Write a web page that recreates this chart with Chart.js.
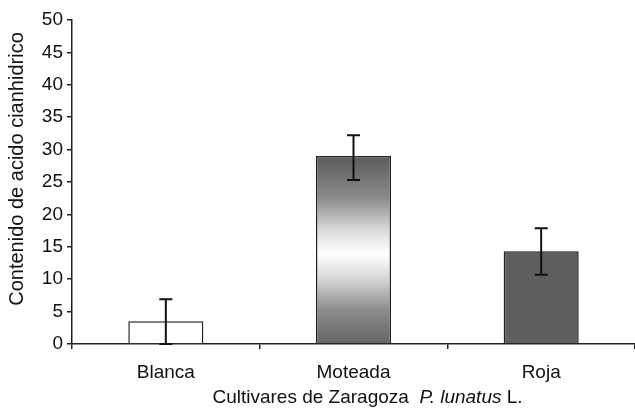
<!DOCTYPE html>
<html>
<head>
<meta charset="utf-8">
<script src="https://cdn.jsdelivr.net/npm/chart.js@4.4.1/dist/chart.umd.min.js"></script>
<style>
  html, body { margin: 0; padding: 0; background: #fff; }
  #wrap { width: 635px; height: 408px; }
</style>
</head>
<body>
<div id="wrap"><canvas id="myChart" width="635" height="408"></canvas></div>
<script>
// data
var cultivares = ['Blanca', 'Moteada', 'Roja'];
var contenido = [3.5, 29.0, 14.3];
var errAlto = [6.9, 32.2, 17.85];
var errBajo = [0, 25.3, 10.7];
var yTicks = [0, 5, 10, 15, 20, 25, 30, 35, 40, 45, 50];

var fuente = '"Liberation Sans", Arial, sans-serif';
var tinta = '#111';

function rellenoBarra(context) {
    var chart = context.chart;
    var i = context.dataIndex;
    if (i == 0) return '#ffffff';
    if (i == 2) return '#5f5f5f';
    if (!chart.chartArea) return '#999';
    var y = chart.scales.y;
    var top = y.getPixelForValue(contenido[i]);
    var bottom = y.getPixelForValue(0);
    var g = chart.ctx.createLinearGradient(0, top, 0, bottom);
    g.addColorStop(0, '#5c5c5c');
    g.addColorStop(0.22, '#8a8a8a');
    g.addColorStop(0.4, '#dcdcdc');
    g.addColorStop(0.52, '#ffffff');
    g.addColorStop(0.64, '#dcdcdc');
    g.addColorStop(0.82, '#8c8c8c');
    g.addColorStop(1, '#666666');
    return g;
}

// error bars with caps
var barrasError = {
    id: 'barrasError',
    afterDatasetsDraw: function (chart) {
        var ctx = chart.ctx;
        var y = chart.scales.y;
        var meta = chart.getDatasetMeta(0);
        ctx.save();
        ctx.strokeStyle = tinta;
        ctx.lineWidth = 2;
        for (var i = 0; i < meta.data.length; i++) {
            var x = meta.data[i].x;
            var y1 = y.getPixelForValue(errAlto[i]);
            var y2 = y.getPixelForValue(errBajo[i]);
            ctx.beginPath();
            ctx.moveTo(x, y1); ctx.lineTo(x, y2);
            ctx.moveTo(x - 6.5, y1); ctx.lineTo(x + 6.5, y1);
            ctx.moveTo(x - 6.5, y2); ctx.lineTo(x + 6.5, y2);
            ctx.stroke();
        }
        ctx.restore();
    }
};

// axis titles (x one has the italic species name)
var titulos = {
    id: 'titulos',
    afterDraw: function (chart) {
        var ctx = chart.ctx;
        var area = chart.chartArea;
        var partes = [
            { t: 'Cultivares de Zaragoza  ', f: '19px ' + fuente },
            { t: 'P. lunatus', f: 'italic 19px ' + fuente },
            { t: ' L.', f: '19px ' + fuente }
        ];
        ctx.save();
        var total = 0;
        partes.forEach(function (p) { ctx.font = p.f; p.w = ctx.measureText(p.t).width; total += p.w; });
        var x = (area.left + area.right) / 2 + 14 - total / 2;
        ctx.fillStyle = tinta;
        ctx.textBaseline = 'middle';
        partes.forEach(function (p) {
            ctx.font = p.f;
            ctx.fillText(p.t, x, 398);
            x += p.w;
        });

        ctx.translate(17, (area.top + area.bottom) / 2 - 13);
        ctx.rotate(-Math.PI / 2);
        ctx.font = '20px ' + fuente;
        ctx.textAlign = 'center';
        ctx.fillText('Contenido de acido cianhidrico', 0, 0);
        ctx.restore();
    }
};

var ctx = document.getElementById('myChart').getContext('2d');
new Chart(ctx, {
    type: 'bar',
    data: {
        labels: cultivares,
        datasets: [{
            data: contenido,
            backgroundColor: rellenoBarra,
            borderColor: '#222',
            borderWidth: 1.5,
            categoryPercentage: 1,
            barPercentage: 0.4
        }]
    },
    options: {
        responsive: false,
        animation: false,
        layout: { padding: { top: 20, right: 0, left: 0, bottom: 0 } },
        plugins: { legend: { display: false }, tooltip: { enabled: false } },
        scales: {
            x: {
                afterFit: function (s) { s.height = 64; },
                border: { color: '#222', width: 1.5 },
                grid: { drawOnChartArea: false, tickLength: 5, color: '#222', lineWidth: 1.5 },
                ticks: { color: tinta, font: { family: fuente, size: 19 }, padding: 12 }
            },
            y: {
                min: 0,
                max: 50,
                afterFit: function (s) { s.width = 72; },
                afterBuildTicks: function (s) { s.ticks = yTicks.map(function (v) { return { value: v }; }); },
                border: { color: '#222', width: 1.5 },
                grid: { drawOnChartArea: false, tickLength: 5, color: '#222', lineWidth: 1.5 },
                ticks: { color: tinta, font: { family: fuente, size: 19 }, padding: 4 }
            }
        }
    },
    plugins: [barrasError, titulos]
});
</script>
</body>
</html>
